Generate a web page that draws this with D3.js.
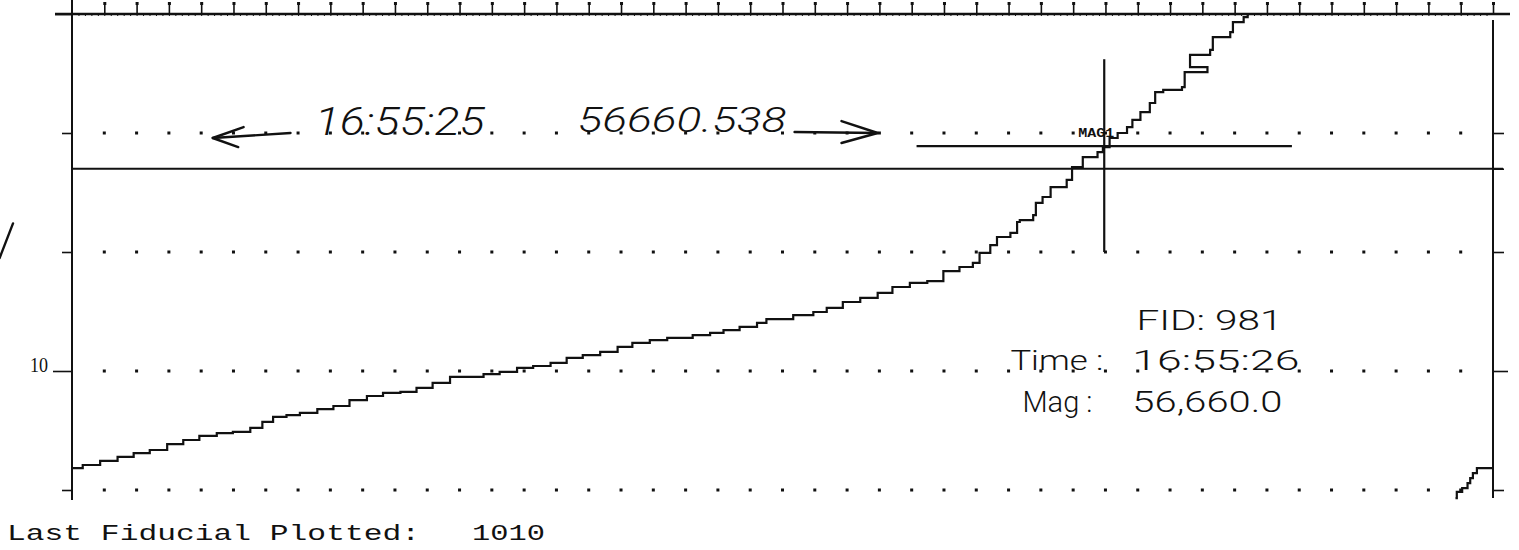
<!DOCTYPE html>
<html>
<head>
<meta charset="utf-8">
<script src="https://cdn.jsdelivr.net/npm/d3@7/dist/d3.min.js"></script>
<style>
  body { margin: 0; background: #fff; }
  svg { display: block; }
</style>
</head>
<body>
<svg id="chart" width="1519" height="550"></svg>
<script>
// magnetometer trace: fiducial number and plotted value (chart units)
const traceFid = [904.0, 904.8, 906.1, 907.4, 908.6, 909.8, 911.1, 912.3, 913.5, 914.8,
  916.0, 917.3, 918.2, 919.0, 920.0, 921.0, 922.3, 923.5, 924.7, 926.0,
  927.2, 928.5, 929.7, 930.9, 932.2, 933.5, 934.7, 935.9, 937.2, 938.4,
  939.7, 940.9, 942.1, 943.4, 944.7, 945.8, 947.1, 948.4, 949.6, 950.3,
  951.6, 952.6, 953.8, 955.1, 955.8, 957.0, 957.8, 959.3, 960.3, 961.5,
  962.8, 964.1, 965.2, 966.5, 967.8, 969.0, 970.2, 971.2, 971.7, 972.5,
  973.0, 974.0, 974.5, 974.7, 975.7, 975.9, 976.4, 977.0, 978.2, 978.6,
  979.4, 980.5, 980.9, 981.4, 982.0, 982.7, 983.1, 983.7, 984.4, 984.8,
  985.4, 986.8, 987.0, 988.7, 987.4, 987.4, 988.9, 989.1, 990.4, 990.6,
  991.4, 991.7];
const traceVal = [5.92, 6.05, 6.22, 6.39, 6.55, 6.68, 6.93, 7.10, 7.27, 7.39,
  7.44, 7.61, 7.86, 8.07, 8.15, 8.24, 8.40, 8.53, 8.78, 8.95,
  9.08, 9.12, 9.29, 9.50, 9.75, 9.75, 9.87, 9.96, 10.13, 10.21,
  10.34, 10.55, 10.67, 10.80, 11.01, 11.18, 11.30, 11.39, 11.39, 11.51,
  11.60, 11.72, 11.85, 12.02, 12.18, 12.18, 12.35, 12.48, 12.65, 12.90,
  13.07, 13.28, 13.53, 13.70, 13.78, 14.20, 14.37, 14.54, 14.96, 15.29,
  15.63, 15.80, 16.26, 16.34, 16.55, 17.06, 17.31, 17.73, 18.03, 18.57,
  18.99, 19.20, 19.41, 19.79, 20.00, 20.25, 20.55, 20.88, 21.26, 21.72,
  21.81, 21.93, 22.56, 22.77, 22.98, 23.28, 23.49, 24.03, 24.24, 24.66,
  24.87, 25.00];
// trace wrapped back in at the bottom
const wrapFid = [1007.2, 1007.3, 1007.7, 1008.1, 1008.3, 1008.5, 1008.8, 1009.9];
const wrapVal = [4.66, 4.92, 5.08, 5.29, 5.50, 5.71, 5.92, 5.97];

const gridLevels = [5, 10, 15, 20];
const leftTicks = [5, 10, 15, 20, 25];
const leftTickLabels = { 10: "10" };
const rightTicks = [5, 10, 15, 18.5, 20];
const referenceLevel = 18.5;
const gridColumns = 44;

// cursor at the picked fiducial
const cursorFid = 981;
const cursorVal = 19.45;
const cursorSpanFid = 14;
const cursorLow = 15, cursorHigh = 23.1;
const cursorLabel = "MAG1";

const footerLabel = "Last Fiducial Plotted:";
const footerValue = "1010";

// handwritten notes, placed in chart units
const notes = [
  { text: "16:55:25",  f: 922.1, v: 19.92, len: 170, size: 38, italic: true },
  { text: "56660.538", f: 941.7, v: 20.04, len: 209, size: 35, italic: true },
  { text: "FID: 981",  f: 983.4, v: 11.72, len: 146, size: 27, italic: false },
  { text: "Time :",    f: 974.0, v: 10.04, len: 93,  size: 28, italic: false },
  { text: "16:55:26",  f: 983.1, v: 10.04, len: 167, size: 28, italic: false },
  { text: "Mag :",     f: 974.9, v: 8.28,  len: 70,  size: 30, italic: false },
  { text: "56,660.0",  f: 983.1, v: 8.28,  len: 150, size: 30, italic: false }
];
const arrows = [
  { from: [920.3, 20.0], to: [914.5, 19.79], barbs: [[916.8, 20.25], [916.4, 19.41]] },
  { from: [957.9, 20.04], to: [964.1, 20.0], barbs: [[961.4, 20.5], [961.4, 19.58]] }
];
const slash = [[899.6, 16.2], [898.6, 14.75]];

const svg = d3.select('#chart');
const x = d3.scaleLinear().domain([904, 1010]).range([72, 1493]);
const y = d3.scaleLinear().domain([5, 25]).range([490, 14]);
const col = d3.scaleLinear().domain([0, gridColumns]).range([72, 1493]);
const ink = '#111';

// dotted grid
const dots = [];
gridLevels.forEach(lv => d3.range(1, gridColumns).forEach(k => dots.push([k, lv])));
svg.append('g').selectAll('rect').data(dots).enter().append('rect')
  .attr('x', d => col(d[0]) - 1.5)
  .attr('y', d => y(d[1]) - 1.5)
  .attr('width', 3).attr('height', 3)
  .attr('fill', ink);

// top ruler
const topAxis = svg.append('g').attr('transform', 'translate(0,' + y(25) + ')')
  .call(d3.axisTop(col).tickValues(d3.range(1, gridColumns + 1)).tickSize(11).tickFormat(''));
topAxis.select('.domain').remove();
topAxis.selectAll('.tick line').attr('stroke', ink).attr('stroke-width', 1.6);
topAxis.selectAll('.tick').append('rect')
  .attr('x', -1.5).attr('y', -12).attr('width', 3).attr('height', 3).attr('fill', ink);
const minorAxis = svg.append('g').attr('transform', 'translate(0,' + y(25) + ')')
  .call(d3.axisBottom(col).tickValues(d3.range(0, gridColumns, 0.2)).tickSize(2).tickFormat(''));
minorAxis.select('.domain').remove();
minorAxis.selectAll('.tick line').attr('stroke', ink).attr('stroke-width', 1);
svg.append('line')
  .attr('x1', 55).attr('x2', 1510)
  .attr('y1', y(25)).attr('y2', y(25))
  .attr('stroke', ink).attr('stroke-width', 2.5);

// left axis
const leftAxis = svg.append('g').attr('transform', 'translate(' + x(904) + ',0)')
  .call(d3.axisLeft(y).tickValues(leftTicks).tickSize(10)
    .tickFormat(d => leftTickLabels[d] || ''));
leftAxis.select('.domain').remove();
leftAxis.selectAll('.tick line')
  .attr('x2', d => d === 10 ? -19 : d === 25 ? -17 : -10)
  .attr('stroke', ink).attr('stroke-width', 1.6);
leftAxis.selectAll('.tick text')
  .attr('x', -24).attr('dy', '0')
  .attr('font-family', '"Liberation Serif", serif')
  .attr('font-size', 21)
  .attr('textLength', d => leftTickLabels[d] ? 18 : null)
  .attr('lengthAdjust', 'spacingAndGlyphs')
  .attr('fill', ink);
svg.append('line')
  .attr('x1', x(904)).attr('x2', x(904))
  .attr('y1', 0).attr('y2', 500)
  .attr('stroke', ink).attr('stroke-width', 2);

// right axis
const rightAxis = svg.append('g').attr('transform', 'translate(' + x(1010) + ',0)')
  .call(d3.axisRight(y).tickValues(rightTicks).tickSize(10).tickFormat(''));
rightAxis.select('.domain').remove();
rightAxis.selectAll('.tick line')
  .attr('x2', d => d === 10 ? 15 : 11)
  .attr('stroke', ink).attr('stroke-width', 1.6);
svg.append('line')
  .attr('x1', x(1010)).attr('x2', x(1010))
  .attr('y1', y(24.75)).attr('y2', 498)
  .attr('stroke', ink).attr('stroke-width', 2);

// reference level
svg.append('line')
  .attr('x1', x(904)).attr('x2', x(1010) + 10)
  .attr('y1', y(referenceLevel)).attr('y2', y(referenceLevel))
  .attr('stroke', ink).attr('stroke-width', 2);

// trace
const line = d3.line().x(d => x(d[0])).y(d => y(d[1])).curve(d3.curveStepAfter);
const trace = traceFid.map((f, i) => [f, traceVal[i]]);
const wrap = wrapFid.map((f, i) => [f, wrapVal[i]]);
[trace, wrap].forEach(seg => {
  svg.append('path').datum(seg)
    .attr('d', line)
    .attr('fill', 'none')
    .attr('stroke', ink)
    .attr('stroke-width', 2.2);
});

// cursor cross
svg.append('line')
  .attr('x1', x(cursorFid - cursorSpanFid)).attr('x2', x(cursorFid + cursorSpanFid))
  .attr('y1', y(cursorVal)).attr('y2', y(cursorVal))
  .attr('stroke', ink).attr('stroke-width', 2.2);
svg.append('line')
  .attr('x1', x(cursorFid)).attr('x2', x(cursorFid))
  .attr('y1', y(cursorHigh)).attr('y2', y(cursorLow))
  .attr('stroke', ink).attr('stroke-width', 2.2);
svg.append('text')
  .attr('x', x(cursorFid) - 26).attr('y', y(cursorVal) - 9)
  .attr('font-family', '"Liberation Mono", monospace')
  .attr('font-weight', 'bold')
  .attr('font-size', 13)
  .attr('textLength', 36).attr('lengthAdjust', 'spacingAndGlyphs')
  .attr('fill', ink)
  .text(cursorLabel);

// handwritten notes
svg.append('g').selectAll('text').data(notes).enter().append('text')
  .attr('x', d => x(d.f)).attr('y', d => y(d.v))
  .attr('font-family', 'Roboto, Inter, sans-serif')
  .attr('font-weight', 300)
  .attr('font-style', d => d.italic ? 'italic' : 'normal')
  .attr('font-size', d => d.size)
  .attr('textLength', d => d.len).attr('lengthAdjust', 'spacingAndGlyphs')
  .attr('fill', ink)
  .text(d => d.text);

const arrowG = svg.append('g').attr('fill', 'none').attr('stroke', ink)
  .attr('stroke-width', 2.4).attr('stroke-linecap', 'round').attr('stroke-linejoin', 'round');
arrows.forEach(a => {
  arrowG.append('path').attr('d', d3.line().x(p => x(p[0])).y(p => y(p[1]))([a.from, a.to]));
  arrowG.append('path').attr('d', d3.line().x(p => x(p[0])).y(p => y(p[1]))([a.barbs[0], a.to, a.barbs[1]]));
});
arrowG.append('path').attr('d', d3.line().x(p => x(p[0])).y(p => y(p[1]))(slash));

// footer
svg.append('text')
  .attr('x', 7).attr('y', 540)
  .attr('font-family', '"Liberation Mono", monospace')
  .attr('font-size', 22)
  .attr('textLength', 413).attr('lengthAdjust', 'spacingAndGlyphs')
  .attr('fill', ink)
  .text(footerLabel);
svg.append('text')
  .attr('x', 472).attr('y', 540)
  .attr('font-family', '"Liberation Mono", monospace')
  .attr('font-size', 22)
  .attr('textLength', 73).attr('lengthAdjust', 'spacingAndGlyphs')
  .attr('fill', ink)
  .text(footerValue);
</script>
</body>
</html>
